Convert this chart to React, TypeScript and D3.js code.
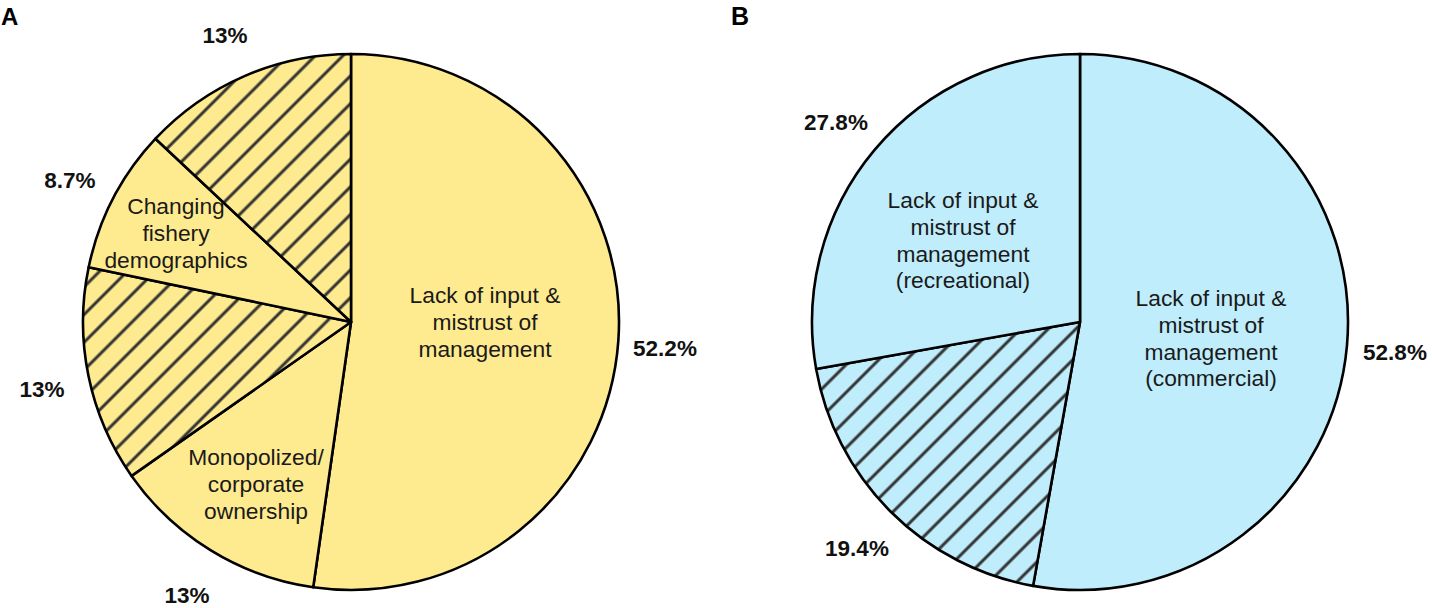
import React from "react";
import * as d3 from "d3";

const categoriesA = [
  "Lack of input & mistrust of management",
  "Monopolized/corporate ownership",
  "Other (hatched) 1",
  "Changing fishery demographics",
  "Other (hatched) 2",
];
const valuesA = [52.2, 13, 13, 8.7, 13];
const hatchedA = [false, false, true, false, true];
const pctLabelsA = ["52.2%", "13%", "13%", "8.7%", "13%"];
const innerLabelsA: string[][] = [
  ["Lack of input &", "mistrust of", "management"],
  ["Monopolized/", "corporate", "ownership"],
  [],
  ["Changing", "fishery", "demographics"],
  [],
];

const categoriesB = [
  "Lack of input & mistrust of management (commercial)",
  "Other (hatched)",
  "Lack of input & mistrust of management (recreational)",
];
const valuesB = [52.8, 19.4, 27.8];
const hatchedB = [false, true, false];
const pctLabelsB = ["52.8%", "19.4%", "27.8%"];
const innerLabelsB: string[][] = [
  ["Lack of input &", "mistrust of", "management", "(commercial)"],
  [],
  ["Lack of input &", "mistrust of", "management", "(recreational)"],
];

const W = 1432;
const H = 608;
const R = 268;
const FONT = "'Liberation Sans', Arial, sans-serif";

const pctPosA: [number, number][] = [
  [665, 348],
  [187, 595],
  [42, 389],
  [70, 180],
  [225, 35],
];
const innerPosA: [number, number][] = [
  [485, 295],
  [256, 457],
  [0, 0],
  [176, 206],
  [0, 0],
];
const pctPosB: [number, number][] = [
  [1395, 352],
  [857, 548],
  [836, 122],
];
const innerPosB: [number, number][] = [
  [1211, 298],
  [0, 0],
  [963, 200],
];

type PieProps = {
  cx: number;
  cy: number;
  values: number[];
  hatched: boolean[];
  fill: string;
  patternId: string;
  pct: string[];
  inner: string[][];
  pctPos: [number, number][];
  innerPos: [number, number][];
  cats: string[];
};

function Pie(p: PieProps) {
  const pie = d3.pie<number>().sort(null).value((d) => d);
  const arcs = pie(p.values);
  const arc = d3.arc<d3.PieArcDatum<number>>().innerRadius(0).outerRadius(R);
  const lineH = 26.8;
  return (
    <g>
      <g transform={`translate(${p.cx},${p.cy})`}>
        {arcs.map((a, i) => (
          <g key={p.cats[i]}>
            <path d={arc(a) || ""} fill={p.fill} />
            {p.hatched[i] && <path d={arc(a) || ""} fill={`url(#${p.patternId})`} />}
            <path
              d={arc(a) || ""}
              fill="none"
              stroke="#000"
              strokeWidth={2.6}
              strokeLinejoin="round"
            />
          </g>
        ))}
      </g>
      {arcs.map((a, i) => (
        <text
          key={"p" + i}
          x={p.pctPos[i][0]}
          y={p.pctPos[i][1]}
          textAnchor="middle"
          dominantBaseline="central"
          fontFamily={FONT}
          fontWeight="bold"
          fontSize={22.5}
          fill="#111"
        >
          {p.pct[i]}
        </text>
      ))}
      {arcs.map((a, i) =>
        p.inner[i].length ? (
          <text
            key={"i" + i}
            textAnchor="middle"
            dominantBaseline="central"
            fontFamily={FONT}
            fontSize={22.8}
            fill="#1a1a1a"
          >
            {p.inner[i].map((t, j) => (
              <tspan key={j} x={p.innerPos[i][0]} y={p.innerPos[i][1] + j * lineH}>
                {t}
              </tspan>
            ))}
          </text>
        ) : null
      )}
    </g>
  );
}

export default function App() {
  return (
    <svg
      width={W}
      height={H}
      style={{ position: "absolute", left: 0, top: 0, background: "#fff" }}
    >
      <defs>
        <pattern
          id="hatchA"
          patternUnits="userSpaceOnUse"
          width={19.6}
          height={19.6}
          patternTransform="rotate(45)"
        >
          <line x1={2} y1={0} x2={2} y2={19.6} stroke="#333" strokeWidth={3} />
        </pattern>
        <pattern
          id="hatchB"
          patternUnits="userSpaceOnUse"
          width={19.6}
          height={19.6}
          patternTransform="rotate(45)"
        >
          <line x1={2} y1={0} x2={2} y2={19.6} stroke="#333" strokeWidth={3} />
        </pattern>
      </defs>
      <text x={1} y={25} fontFamily={FONT} fontWeight="bold" fontSize={24} fill="#000">
        A
      </text>
      <text x={731} y={25} fontFamily={FONT} fontWeight="bold" fontSize={25} fill="#000">
        B
      </text>
      <Pie
        cx={351}
        cy={322}
        values={valuesA}
        hatched={hatchedA}
        fill="#FFEB8F"
        patternId="hatchA"
        pct={pctLabelsA}
        inner={innerLabelsA}
        pctPos={pctPosA}
        innerPos={innerPosA}
        cats={categoriesA}
      />
      <Pie
        cx={1080}
        cy={322}
        values={valuesB}
        hatched={hatchedB}
        fill="#BFEDFC"
        patternId="hatchB"
        pct={pctLabelsB}
        inner={innerLabelsB}
        pctPos={pctPosB}
        innerPos={innerPosB}
        cats={categoriesB}
      />
    </svg>
  );
}
